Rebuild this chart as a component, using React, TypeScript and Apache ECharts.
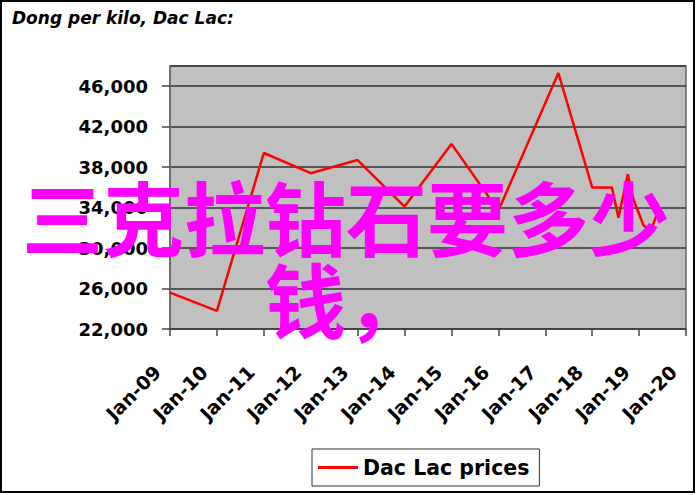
import React, { useEffect, useRef } from 'react';
import * as echarts from 'echarts';

// Dates as fractional years, prices in dong per kilo
const dates = [2009.0, 2010.0, 2011.0, 2012.0, 2013.0, 2014.0, 2015.0, 2016.0, 2017.28, 2018.0, 2018.42, 2018.56, 2018.76, 2018.88, 2019.09, 2019.24, 2019.43];
const prices = [25600, 23800, 39400, 37400, 38700, 34100, 40300, 33700, 47300, 36000, 36000, 33000, 37300, 34800, 32300, 31600, 34000];

const seriesName = 'Dac Lac prices';
const titleText = 'Dong per kilo, Dac Lac:';
const overlayText = '三克拉钻石要多少\n钱，';
const monthLabel = 'Jan-';

export default function App() {
  const ref = useRef<HTMLDivElement>(null);
  useEffect(() => {
    const chart = echarts.init(ref.current!, null, { renderer: 'svg' });
    const font = 'DejaVu Sans';
    chart.setOption({
      animation: false,
      backgroundColor: '#ffffff',
      title: {
        text: titleText,
        left: 7,
        top: 4,
        textStyle: { fontFamily: font, fontSize: 17, fontWeight: 'bold', fontStyle: 'italic', color: '#000' },
      },
      legend: {
        left: 312,
        top: 449,
        orient: 'horizontal',
        borderColor: '#333',
        borderWidth: 1,
        padding: [8, 10, 8, 6],
        itemWidth: 40,
        itemHeight: 3,
        icon: 'rect',
        textStyle: { fontFamily: font, fontSize: 20.5, fontWeight: 'bold', color: '#000' },
        data: [seriesName],
      },
      grid: {
        left: 170,
        right: 10,
        top: 66,
        bottom: 166,
        show: true,
        backgroundColor: '#c0c0c0',
        borderColor: '#666',
        borderWidth: 1.5,
      },
      xAxis: {
        type: 'value',
        min: 2009,
        max: 2020,
        interval: 1,
        axisLine: { show: true, lineStyle: { color: '#444', width: 1.5 } },
        axisTick: { show: true, length: 7, lineStyle: { color: '#444', width: 1.5 } },
        splitLine: { show: false },
        axisLabel: {
          rotate: 45,
          margin: 27,
          padding: [0, 18, 0, 0],
          formatter: (v: number) => monthLabel + String(Math.round(v)).slice(2),
          fontFamily: font,
          fontSize: 19,
          fontWeight: 'bold',
          color: '#000',
        },
      },
      yAxis: {
        type: 'value',
        min: 22000,
        max: 48000,
        interval: 4000,
        axisLine: { show: true, lineStyle: { color: '#666', width: 1.5 } },
        axisTick: { show: true, length: 8, lineStyle: { color: '#444', width: 1.5 } },
        splitLine: { show: true, lineStyle: { color: '#333', width: 1.5 } },
        axisLabel: {
          showMaxLabel: false,
          margin: 22,
          formatter: (v: number) => v.toLocaleString('en-US'),
          fontFamily: font,
          fontSize: 18,
          fontWeight: 'bold',
          color: '#000',
        },
      },
      series: [
        {
          type: 'line',
          name: seriesName,
          data: dates.map((d, i) => [d, prices[i]]),
          symbol: 'none',
          lineStyle: { color: '#ff0000', width: 2.5 },
          itemStyle: { color: '#ff0000' },
        },
      ],
      graphic: [
        {
          type: 'rect',
          z: 50,
          shape: { x: 1, y: 1, width: 693, height: 491 },
          style: { fill: 'none', stroke: '#000', lineWidth: 2 },
        },
        {
          type: 'text',
          z: 100,
          style: {
            text: overlayText,
            x: 346,
            y: 255,
            align: 'center',
            verticalAlign: 'middle',
            fontSize: 81,
            lineHeight: 82,
            fontWeight: 'bold',
            fontFamily: 'Noto Sans CJK SC',
            fill: '#ff00ff',
          },
        },
      ],
    });
    return () => chart.dispose();
  }, []);
  return (
    <div
      ref={ref}
      style={{ position: 'absolute', left: 0, top: 0, width: 696, height: 495, background: '#fff' }}
    />
  );
}
